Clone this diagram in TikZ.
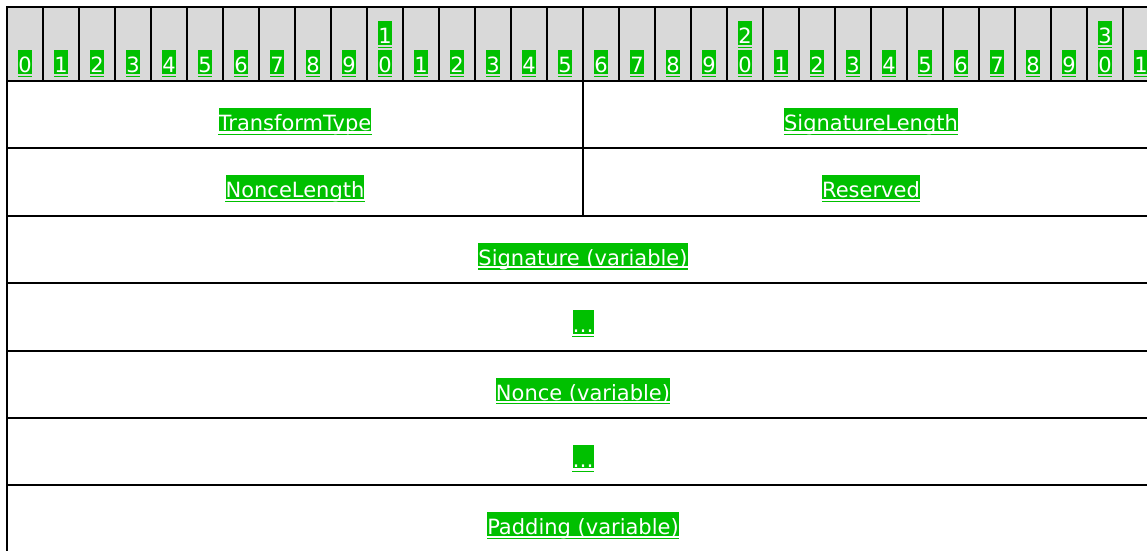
\documentclass[tikz,border=0pt]{standalone}
\usepackage{fontspec}
\setmainfont{DejaVu Sans}
\usepackage{xcolor}
\usepackage{tikz}
\usetikzlibrary{positioning}
\definecolor{lnkgreen}{RGB}{0,192,0}
\definecolor{hdrgray}{RGB}{217,217,217}

\begin{document}
\begin{tikzpicture}[
  x=1pt,y=-1pt,
  font=\fontsize{21}{25}\selectfont,
  hdr/.style={draw,line width=2pt,fill=hdrgray,minimum width=36pt,minimum height=74pt,inner sep=0pt},
  fld/.style={draw,line width=2pt,minimum height=67.4pt,inner sep=0pt},
  half/.style={fld,minimum width=576pt},
  full/.style={fld,minimum width=1152pt},
  lnk/.style={fill=lnkgreen,text=white,inner sep=0pt,text height=22.5pt,text depth=0.8pt,anchor=base,
    append after command={\pgfextra{\draw[lnkgreen,line width=1.3pt]
      ([yshift=-2.7pt]\tikzlastnode.south west) -- ([yshift=-2.7pt]\tikzlastnode.south east);}}}
]
\useasboundingbox (0,0) rectangle (1147,550);
\foreach \i in {0,...,31}{
  \pgfmathtruncatemacro\dg{mod(\i,10)}
  \pgfmathtruncatemacro\tn{\i/10}
  \node[hdr] (c\i) at ({25+36*\i},44) {};
  \node[lnk] (d\i) at ({25+36*\i},72.7) {\dg};
  \ifnum\dg=0 \ifnum\i>0
    \node[lnk] (t\i) at ({25+36*\i},43.7) {\tn};
  \fi\fi
}
\node[half] (ttype) at (295,114.7) {};
\node[half] (siglen) at (871,114.7) {};
\node[half] (noncelen) at (295,182.1) {};
\node[half] (rsvd) at (871,182.1) {};
\node[full] (sig) at (583,249.5) {};
\node[full] (sigmore) at (583,316.9) {};
\node[full] (nonce) at (583,384.3) {};
\node[full] (noncemore) at (583,451.7) {};
\node[full] (pad) at (583,519.1) {};
\node[lnk] (ttypeTxt) at (295,130.5) {TransformType};
\node[lnk] (siglenTxt) at (871,130.5) {SignatureLength};
\node[lnk] (noncelenTxt) at (295,197.9) {NonceLength};
\node[lnk] (rsvdTxt) at (871,197.9) {Reserved};
\node[lnk] (sigTxt) at (583,265.3) {Signature (variable)};
\node[lnk] (sigmoreTxt) at (583,332.7) {…};
\node[lnk] (nonceTxt) at (583,400.1) {Nonce (variable)};
\node[lnk] (noncemoreTxt) at (583,467.5) {…};
\node[lnk] (padTxt) at (583,534.9) {Padding (variable)};
\end{tikzpicture}
\end{document}
